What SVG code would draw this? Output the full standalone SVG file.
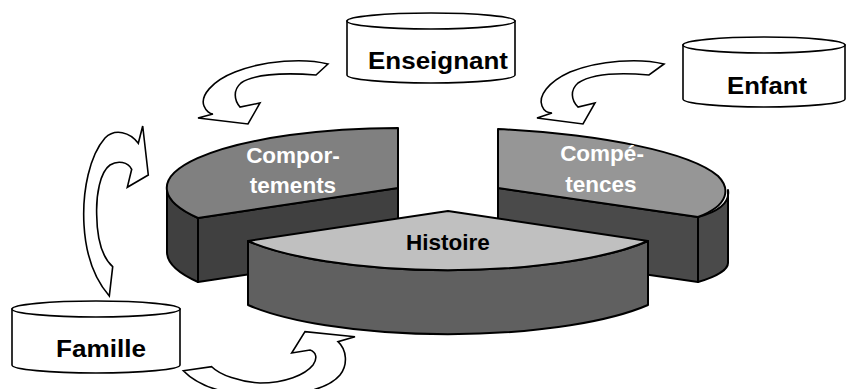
<svg xmlns="http://www.w3.org/2000/svg" width="846" height="389" viewBox="0 0 846 389">
<style>
.cyl{fill:#fff;stroke:#000;stroke-width:1.6}
.arr{fill:#fff;stroke:#000;stroke-width:1.6;stroke-linejoin:miter}
.pie{stroke:#000;stroke-width:2;stroke-linejoin:round}
.lbl{font-family:"Liberation Sans",Arial,sans-serif;font-weight:bold;font-size:23px;fill:#000;text-anchor:middle}
.sl{font-family:"Liberation Sans",Arial,sans-serif;font-weight:bold;font-size:22.5px;text-anchor:middle}
</style>
<rect width="846" height="389" fill="#fff"/>

<g id="node-comportements">
<path class="pie" fill="#404040" d="M167,188 A233,60 0 0 0 198,218 L198,282 A233,60 0 0 1 167,252 Z"/>
<path class="pie" fill="#404040" d="M198,218 L398,188 L398,252 L198,282 Z"/>
<path class="pie" fill="#808080" d="M398,128 A233,60 0 0 0 198,218 L398,188 Z"/>
<text class="sl" fill="#fff" x="293" y="163">Compor-</text>
<text class="sl" fill="#fff" x="293" y="193">tements</text>
</g>

<g id="node-competences">
<path class="pie" fill="#4a4a4a" d="M728,190 C730,202 720,211 698,217 L698,282 C715,277 728,270 728,263 Z"/>
<path class="pie" fill="#4a4a4a" d="M498,188 L698,217 L698,282 L498,253 Z"/>
<path class="pie" fill="#969696" d="M498,129 C600,134 690,152 718,176 C730,188 730,205 698,217 L498,188 Z"/>
<text class="sl" fill="#fff" x="602" y="161">Compé-</text>
<text class="sl" fill="#fff" x="601" y="192">tences</text>
</g>

<g id="node-histoire">
<path class="pie" fill="#606060" d="M248,241 A233,60 0 0 0 648,241 L648,305 A233,60 0 0 1 248,305 Z"/>
<path class="pie" fill="#c0c0c0" d="M448,211 L648,241 A233,60 0 0 1 248,241 Z"/>
<text class="sl" fill="#000" x="448" y="250">Histoire</text>
</g>

<g id="node-enseignant">
<path class="cyl" d="M347,21 L347,75 A84,8 0 0 0 515,75 L515,21 Z"/>
<ellipse class="cyl" cx="431" cy="21" rx="84" ry="8"/>
<text class="lbl" x="438" y="69" textLength="140" lengthAdjust="spacingAndGlyphs">Enseignant</text>
</g>

<g id="node-enfant">
<path class="cyl" d="M683,45 L683,99 A81,8 0 0 0 845,99 L845,45 Z"/>
<ellipse class="cyl" cx="764" cy="45" rx="81" ry="8"/>
<text class="lbl" x="767" y="94" textLength="80" lengthAdjust="spacingAndGlyphs">Enfant</text>
</g>

<g id="node-famille">
<path class="cyl" d="M12,309 L12,365 A84,8 0 0 0 180,365 L180,309 Z"/>
<ellipse class="cyl" cx="96" cy="309" rx="84" ry="8"/>
<text class="lbl" x="101" y="357" textLength="90" lengthAdjust="spacingAndGlyphs">Famille</text>
</g>

<g id="connectors">
<path class="arr" d="M328,64 C305,58 265,60 235,72 C212,81 200,96 204,106 C206,111 210,114 213,114 L198,118 L248,124 L260,103 L240,107 C234,100 233,90 241,83 C252,75 280,72 316,75 Z"/>
<path class="arr" d="M664,64 C640,58 600,60 570,72 C548,82 538,96 542,106 C544,111 548,113 552,113 L537,118 L583,124 L595,103 L578,107 C571,100 570,90 578,83 C590,75 615,72 649,75 Z"/>
<path class="arr" d="M142.7,126 L148.3,175 L127.3,187.3 L131.7,169.3 C128,162 118,160 110,165 C100,172 96,195 96.7,215 C97,240 103,258 112.7,266.7 L109.3,296 C98,283 86,260 84,225 C82,190 90,155 105,138 C115,128 130,132 138.3,143.3 Z"/>
<path class="arr" d="M183.3,370.7 L211.7,366.7 C220,375 240,382 260,383 C285,383 305,375 313,365 C318,358 316,352 310,350 L291.7,353 L305,331.7 L355,336.7 L338,341.7 C347,350 348,365 340,375 C330,387 305,395 270,396 C230,396 200,388 183.3,370.7 Z"/>
</g>
</svg>
